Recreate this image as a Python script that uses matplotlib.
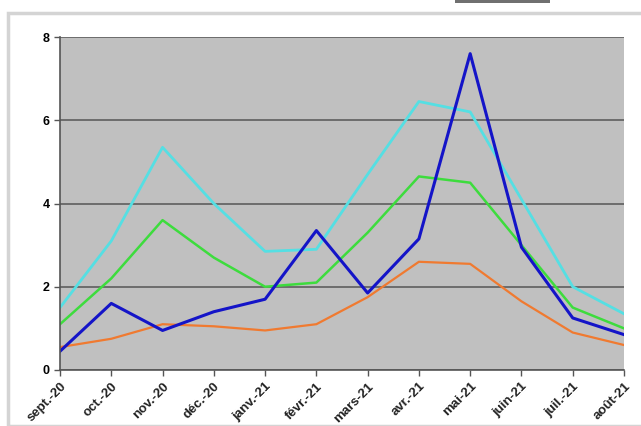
import matplotlib.pyplot as plt
from matplotlib.patches import Rectangle

months = ["sept.-20", "oct.-20", "nov.-20", "déc.-20", "janv.-21", "févr.-21",
          "mars-21", "avr.-21", "mai-21", "juin-21", "juil.-21", "août-21"]

cyan_vals = [1.5, 3.1, 5.35, 4.0, 2.85, 2.9, 4.7, 6.45, 6.2, 4.1, 2.0, 1.35]
green_vals = [1.1, 2.2, 3.6, 2.7, 2.0, 2.1, 3.3, 4.65, 4.5, 3.0, 1.5, 1.0]
blue_vals = [0.45, 1.6, 0.95, 1.4, 1.7, 3.35, 1.85, 3.15, 7.6, 2.95, 1.25, 0.85]
orange_vals = [0.55, 0.75, 1.1, 1.05, 0.95, 1.1, 1.75, 2.6, 2.55, 1.65, 0.9, 0.6]

plt.rcParams["font.family"] = ["Liberation Sans", "DejaVu Sans"]

fig = plt.figure(figsize=(6.41, 4.26), dpi=100)
W, H = 641, 426

# outer frame of the chart
fig.patches.append(Rectangle((8 / W, 0), 1, (H - 13) / H, transform=fig.transFigure,
                             fill=False, edgecolor="#d4d4d4", lw=2.5))
# bit of page above the chart
fig.patches.append(Rectangle((455 / W, (H - 3) / H), 95 / W, 3 / H, transform=fig.transFigure,
                             color="#707070", lw=0))

ax = fig.add_axes([60 / W, (H - 370) / H, (624 - 60) / W, (370 - 37) / H])
ax.set_facecolor("#c0c0c0")

x = range(len(months))
ax.plot(x, orange_vals, color="#f07a30", lw=1.6)
ax.plot(x, green_vals, color="#3ddc3d", lw=1.8)
ax.plot(x, cyan_vals, color="#55dfe3", lw=2.0)
ax.plot(x, blue_vals, color="#1414c8", lw=2.2)

ax.set_xlim(0, len(months) - 1)
ax.set_ylim(0, 8)
ax.set_yticks([0, 2, 4, 6, 8])
ax.grid(axis="y", color="#666666", lw=1.3)
ax.set_axisbelow(True)

ax.set_xticks(list(x))
ax.set_xticklabels(months, rotation=45, ha="right", rotation_mode="anchor",
                   fontsize=9.5, fontweight="bold", color="#222222")
for lab in ax.get_yticklabels():
    lab.set_fontsize(9)
    lab.set_fontweight("bold")
ax.tick_params(axis="both", color="#555555", length=4, width=1)

for s in ["top", "right"]:
    ax.spines[s].set_visible(False)
for s in ["left", "bottom"]:
    ax.spines[s].set_color("#555555")
    ax.spines[s].set_linewidth(1.2)

fig.savefig("out.png", dpi=100)
